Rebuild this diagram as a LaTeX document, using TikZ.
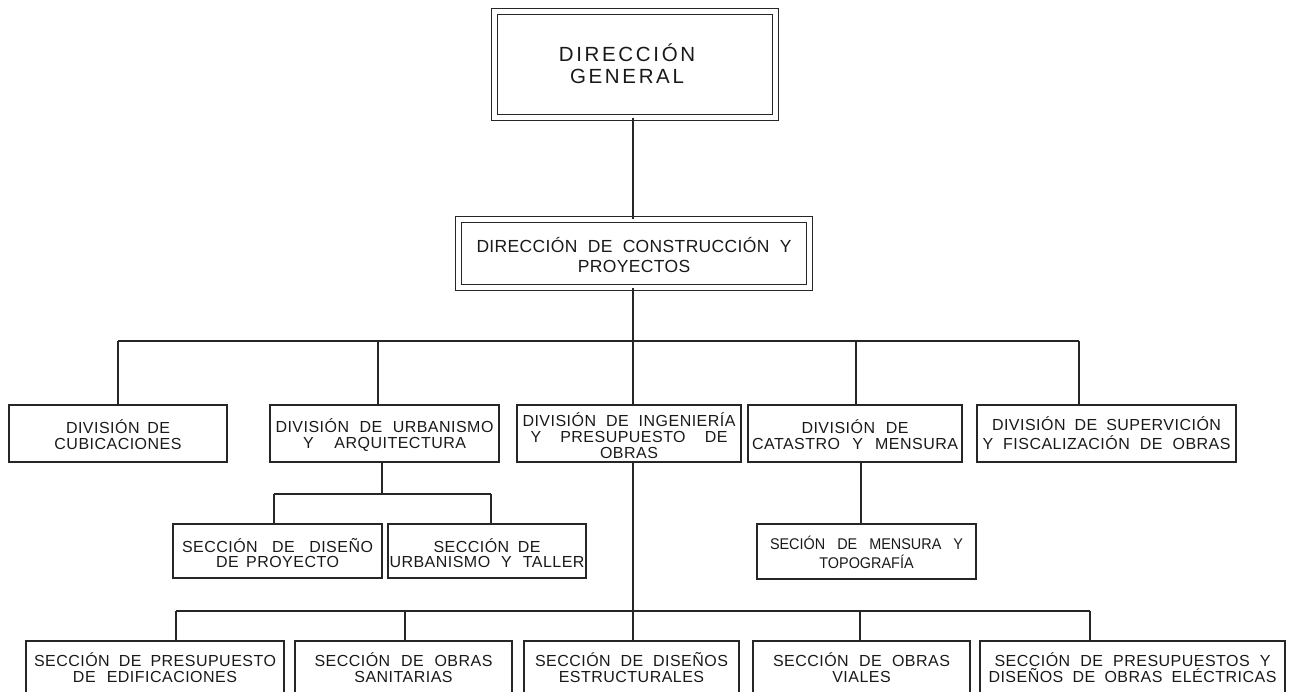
\documentclass[tikz,border=0pt]{standalone}
\usepackage{fontspec}
\setmainfont{Liberation Sans}
% tracked caps for the box titles
\newfontfamily\fa[LetterSpace=13]{Liberation Sans}
\newfontfamily\fb[LetterSpace=2]{Liberation Sans}
\newfontfamily\fc[LetterSpace=3]{Liberation Sans}
\newfontfamily\fd[FakeStretch=0.93]{Liberation Sans}
% a justified line of a given width (pt)
\newcommand\jline[2]{\makebox[#1pt][s]{#2}}
% invisible struts that set the height of a first line / depth of a last line
\newcommand\up[1]{\rule{0pt}{#1pt}}
\newcommand\dn[1]{\rule[-#1pt]{0pt}{#1pt}}

\begin{document}
\begin{tikzpicture}[x=1pt,y=-1pt,
  box/.style={draw=black!85, line width=1.1pt, inner sep=0pt, align=center, text=black!90},
  dbox/.style={box, double, double distance=5pt},
  rowbox/.style={box, minimum height=57pt, font=\fontsize{16}{16}\fc},
  subbox/.style={box, minimum height=54pt, font=\fontsize{16}{15}\fc},
  lowbox/.style={box, minimum height=56pt, font=\fontsize{16}{16}\fc},
  wire/.style={draw=black!85, line width=1.1pt}]
\useasboundingbox (0,0) rectangle (1295,691);
\clip (0,0) rectangle (1295,691);

% top levels
\node[dbox, minimum width=280.8pt, minimum height=105.8pt, font=\fontsize{20.5}{22}\fa] (dg) at (635,64.5) {\up{21}DIRECCIÓN\kern16pt\\GENERAL\kern16pt\dn{6}};
\node[dbox, minimum width=350.8pt, minimum height=67.8pt, font=\fontsize{17.5}{20}\fb] (dcp) at (634,253.5) {\up{18}\jline{315}{DIRECCIÓN DE CONSTRUCCIÓN Y}\\PROYECTOS\dn{1}};

% divisions
\node[rowbox, minimum width=218pt] (d1) at (118,433.5) {\up{17}\jline{104}{DIVISIÓN DE}\\CUBICACIONES};
\node[rowbox, minimum width=229pt] (d2) at (384.5,433.5) {\up{17}\jline{218}{DIVISIÓN DE URBANISMO}\\\jline{163}{Y ARQUITECTURA}};
\node[rowbox, minimum width=224pt] (d3) at (629,433.5) {\up{19}\jline{213}{DIVISIÓN DE INGENIERÍA}\\\jline{197}{Y PRESUPUESTO DE}\\OBRAS};
\node[rowbox, minimum width=214pt] (d4) at (855,433.5) {\up{17}\jline{107}{DIVISIÓN DE}\\\jline{206}{CATASTRO Y MENSURA}};
\node[rowbox, minimum width=259pt, font=\fontsize{16}{19}\fc] (d5) at (1106.5,433.5) {\up{16}\jline{229}{DIVISIÓN DE SUPERVICIÓN}\\\jline{248}{Y FISCALIZACIÓN DE OBRAS}\dn{4}};

% sections under the divisions
\node[subbox, minimum width=209pt] (s1) at (277.5,551) {\up{19}\jline{191}{SECCIÓN DE DISEÑO}\\\jline{123}{DE PROYECTO}};
\node[subbox, minimum width=198pt] (s2) at (487,551) {\up{19}\jline{107}{SECCIÓN DE}\\\jline{195}{URBANISMO Y TALLER}};
\node[box, minimum width=219pt, minimum height=55pt, font=\fontsize{15.5}{19}\fd] (s3) at (866.5,551.5) {\up{16}\jline{193}{SECIÓN DE MENSURA Y}\\TOPOGRAFÍA\dn{2}};

% sections of engineering
\node[lowbox, minimum width=258pt] (b1) at (155,669) {\up{16}\jline{242}{SECCIÓN DE PRESUPUESTO}\\\jline{164}{DE EDIFICACIONES}\dn{6}};
\node[lowbox, minimum width=217pt] (b2) at (403.5,669) {\up{16}\jline{178}{SECCIÓN DE OBRAS}\\SANITARIAS\dn{6}};
\node[lowbox, minimum width=215pt] (b3) at (631.5,669) {\up{16}\jline{193}{SECCIÓN DE DISEÑOS}\\ESTRUCTURALES\dn{6}};
\node[lowbox, minimum width=217pt] (b4) at (861.5,669) {\up{16}\jline{177}{SECCIÓN DE OBRAS}\\VIALES\dn{6}};
\node[lowbox, minimum width=305pt] (b5) at (1132.5,669) {\up{16}\jline{276}{SECCIÓN DE PRESUPUESTOS Y}\\\jline{288}{DISEÑOS DE OBRAS ELÉCTRICAS}\dn{6}};

% junction points
\coordinate (j1) at (118,341);
\coordinate (j2) at (378,341);
\coordinate (j3) at (633,341);
\coordinate (j4) at (856,341);
\coordinate (j5) at (1079,341);
\coordinate (k0) at (382,494);
\coordinate (k1) at (274,494);
\coordinate (k2) at (491,494);
\coordinate (m) at (861,494);
\coordinate (n1) at (176,611);
\coordinate (n2) at (405,611);
\coordinate (n4) at (860,611);
\coordinate (n5) at (1090,611);

% main trunk
\draw[wire] (dg.south -| j3) -- (dcp.north -| j3);
\draw[wire] (dcp.south -| j3) -- (j3);
\draw[wire] (j1) -- (j5);
\draw[wire] (j1) -- (j1 |- d1.north);
\draw[wire] (j2) -- (j2 |- d2.north);
\draw[wire] (j3) -- (j3 |- d3.north);
\draw[wire] (j4) -- (j4 |- d4.north);
\draw[wire] (j5) -- (j5 |- d5.north);

% urbanism branch
\draw[wire] (d2.south -| k0) -- (k0);
\draw[wire] (k1) -- (k2);
\draw[wire] (k1) -- (k1 |- s1.north);
\draw[wire] (k2) -- (k2 |- s2.north);

% cadastre branch
\draw[wire] (d4.south -| m) -- (s3.north -| m);

% engineering branch
\draw[wire] (d3.south -| j3) -- (b3.north -| j3);
\draw[wire] (n1) -- (n5);
\draw[wire] (n1) -- (n1 |- b1.north);
\draw[wire] (n2) -- (n2 |- b2.north);
\draw[wire] (n4) -- (n4 |- b4.north);
\draw[wire] (n5) -- (n5 |- b5.north);
\end{tikzpicture}
\end{document}
